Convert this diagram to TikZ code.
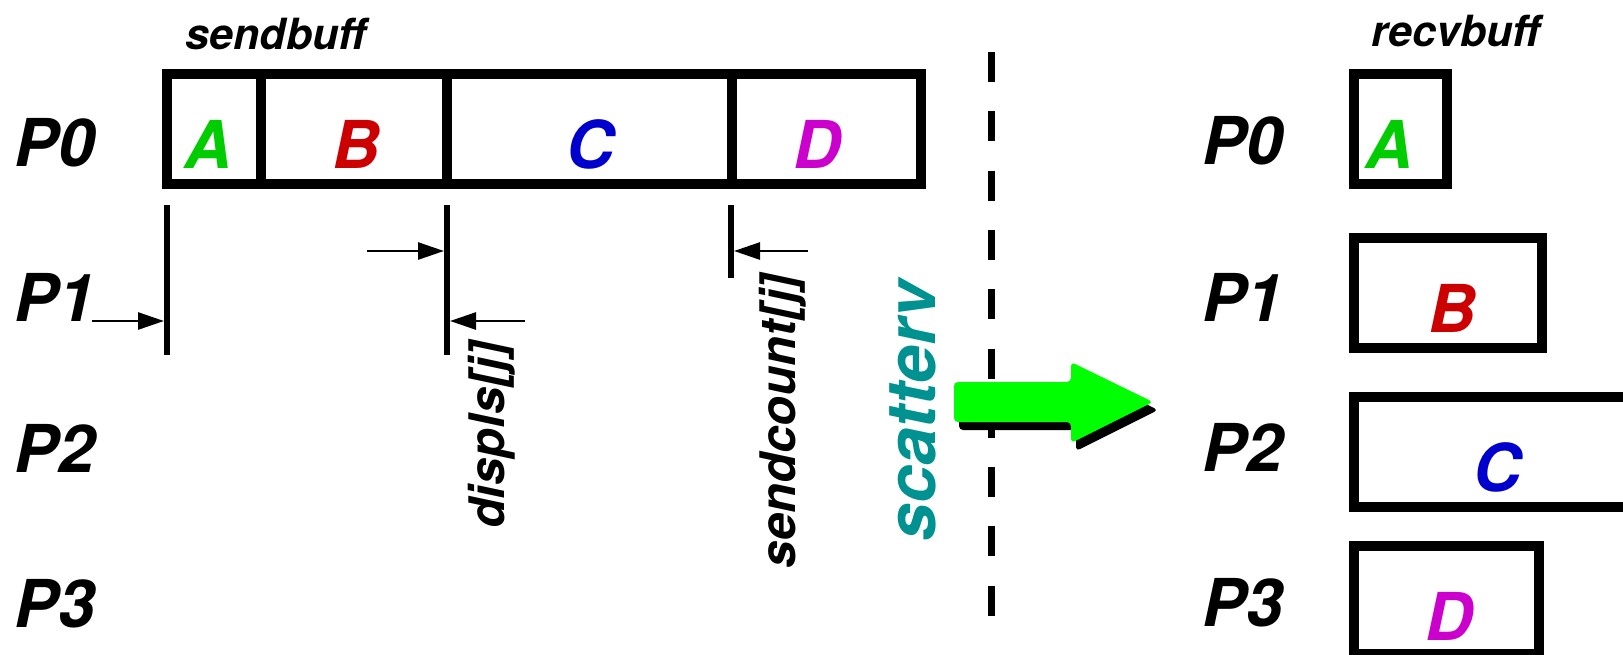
\documentclass[tikz,border=0pt]{standalone}
\usepackage{fontspec}
\setmainfont{TeX Gyre Heros}
\usetikzlibrary{arrows.meta}
\definecolor{cgreen}{RGB}{0,204,0}
\definecolor{cred}{RGB}{204,0,0}
\definecolor{cblue}{RGB}{0,0,204}
\definecolor{cmag}{RGB}{204,0,204}
\definecolor{cteal}{RGB}{0,145,145}
\definecolor{carrow}{RGB}{0,255,0}
\begin{document}
\begin{tikzpicture}[x=1pt,y=-1pt,
  plabel/.style={inner sep=0pt, font=\fontsize{66}{66}\selectfont\bfseries\itshape},
  letter/.style={inner sep=0pt, font=\fontsize{66}{66}\selectfont\bfseries\itshape},
  bufflabel/.style={inner sep=0pt, font=\fontsize{43}{43}\selectfont\bfseries\itshape},
  vlabel/.style={inner sep=0pt, rotate=90, font=\fontsize{49}{49}\selectfont\bfseries\itshape},
  cell/.style={draw, line width=9.5pt, inner sep=0pt, outer sep=0pt, minimum height=110pt},
  tick/.style={line width=6pt},
  dimarrow/.style={line width=2.7pt, -{Triangle[length=26pt,width=17pt]}}
]
\useasboundingbox (0,0) rectangle (1623,654);
\clip (0,0) rectangle (1623,654);

% labels
\node[bufflabel] (sb) at (276,34) {sendbuff};
\node[bufflabel] (rb) at (1456,31) {recvbuff};
\node[plabel] (lp0) at (55,143) {P0};
\node[plabel] (lp1) at (55,297) {P1};
\node[plabel] (lp2) at (55,448) {P2};
\node[plabel] (lp3) at (55,604) {P3};
\node[plabel] (rp0) at (1243,141) {P0};
\node[plabel] (rp1) at (1243,297) {P1};
\node[plabel] (rp2) at (1243,447) {P2};
\node[plabel] (rp3) at (1243,603) {P3};

% send buffer
\node[cell, minimum width=94pt] (sA) at (214,129) {};
\node[cell, minimum width=186pt] (sB) at (354,129) {};
\node[cell, minimum width=285pt] (sC) at (589.5,129) {};
\node[cell, minimum width=189pt] (sD) at (826.5,129) {};
\node[letter, text=cgreen] (tA) at (208,144) {A};
\node[letter, text=cred] (tB) at (356,144) {B};
\node[letter, text=cblue] (tC) at (590,144) {C};
\node[letter, text=cmag] (tD) at (817,144) {D};

% ticks
\coordinate (t1a) at (167,205); \coordinate (t1b) at (167,355);
\coordinate (t2a) at (447,205); \coordinate (t2b) at (447,355);
\coordinate (t3a) at (731,205); \coordinate (t3b) at (731,278);
\draw[tick] (t1a) -- (t1b);
\draw[tick] (t2a) -- (t2b);
\draw[tick] (t3a) -- (t3b);

% dimension arrows
\coordinate (a1s) at (92,321);  \coordinate (a1e) at (164,321);
\coordinate (a2s) at (367,251); \coordinate (a2e) at (444,251);
\coordinate (a3s) at (525,321); \coordinate (a3e) at (450,321);
\coordinate (a4s) at (808,251); \coordinate (a4e) at (734,251);
\draw[dimarrow] (a1s) -- (a1e);
\draw[dimarrow] (a2s) -- (a2e);
\draw[dimarrow] (a3s) -- (a3e);
\draw[dimarrow] (a4s) -- (a4e);

\node[vlabel] (displs) at (492,435) {displs[j]};
\node[vlabel] (scount) at (783,421) {sendcount[j]};
\node[inner sep=0pt, rotate=90, text=cteal, font=\fontsize{68}{68}\selectfont\bfseries\itshape] (scv) at (913,411) {scatterv};

% dashed divider
\coordinate (dtop) at (991,52); \coordinate (dbot) at (991,616);
\draw[line width=7pt, dash pattern=on 30pt off 29.3pt] (dtop) -- (dbot);

% big arrow with shadow
\fill[black, rounded corners=4pt, shift={(5,8)}] (954,382) -- (1071,382) -- (1071,362) -- (1153,402) -- (1071,443) -- (1071,422) -- (954,422) -- cycle;
\fill[carrow, rounded corners=4pt] (954,382) -- (1071,382) -- (1071,362) -- (1153,402) -- (1071,443) -- (1071,422) -- (954,422) -- cycle;

% receive buffers
\node[cell, minimum width=93pt] (rA) at (1400.5,129) {};
\node[cell, minimum width=188pt] (rB) at (1448,293) {};
\node[cell, minimum width=286pt] (rC) at (1497,452) {};
\node[cell, minimum width=185pt, minimum height=108pt] (rD) at (1446.5,600) {};
\node[letter, text=cgreen] (uA) at (1389,144) {A};
\node[letter, text=cred] (uB) at (1452,308) {B};
\node[letter, text=cblue] (uC) at (1497,467) {C};
\node[letter, text=cmag] (uD) at (1449,616) {D};
\end{tikzpicture}
\end{document}
